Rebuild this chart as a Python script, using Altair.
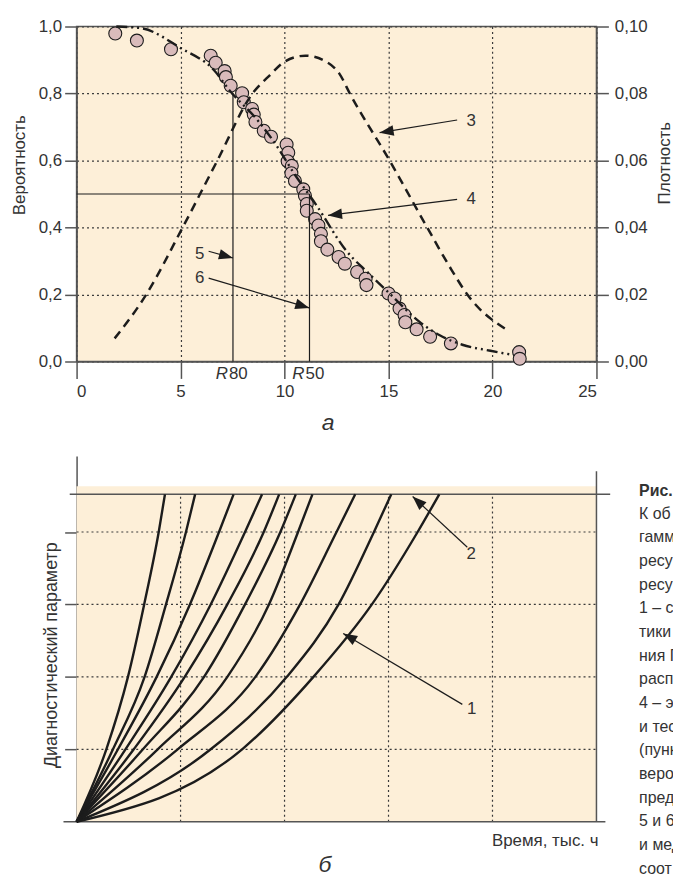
import math
import altair as alt
import pandas as pd

# ---------------- panel а : reliability data ----------------
obs_t = [1.86, 2.90, 4.54, 6.45, 6.69, 7.12, 7.18, 7.41, 7.96, 8.04, 8.44, 8.52, 8.60, 9.00, 9.35,
         10.10, 10.18, 10.15, 10.35, 10.33, 10.50, 10.90, 10.98, 11.07, 11.07, 11.47, 11.63, 11.75, 11.75,
         12.06, 12.60, 12.90, 13.49, 13.90, 13.94, 15.00, 15.29, 15.53, 15.77, 15.81, 16.35, 17.00, 18.00,
         21.28, 21.31]
obs_p = [0.979, 0.958, 0.932, 0.913, 0.892, 0.867, 0.849, 0.823, 0.801, 0.774, 0.754, 0.737, 0.715, 0.689, 0.671,
         0.648, 0.623, 0.598, 0.584, 0.562, 0.539, 0.514, 0.495, 0.470, 0.450, 0.425, 0.406, 0.381, 0.359,
         0.334, 0.312, 0.292, 0.267, 0.247, 0.228, 0.203, 0.188, 0.158, 0.139, 0.117, 0.096, 0.074, 0.054,
         0.028, 0.008]

rel_t = [1.91, 3.10, 5.02, 6.60, 7.40, 8.68, 9.63, 10.43, 11.55, 12.95, 14.10, 15.05, 16.48, 17.44, 18.55, 19.90, 20.94]
rel_p = [1.000, 0.995, 0.935, 0.870, 0.806, 0.722, 0.643, 0.564, 0.465, 0.332, 0.260, 0.203, 0.119, 0.079, 0.050, 0.032, 0.020]

den_t = [1.83, 3.35, 5.10, 6.77, 8.46, 9.30, 10.00, 11.00, 12.00, 12.65, 13.14, 15.05, 16.86, 17.92, 18.79, 20.80]
den_v = [0.0069, 0.0200, 0.0400, 0.0600, 0.0800, 0.0855, 0.0895, 0.0913, 0.0895, 0.0858, 0.0800, 0.0600,
         0.0400, 0.0285, 0.0200, 0.0090]

R_names = ["80", "50"]
R_t = [7.52, 11.20]
R_p = [0.80, 0.50]

x_ticks = [0, 5, 10, 15, 20, 25]
p_ticks = [0.0, 0.2, 0.4, 0.6, 0.8, 1.0]
d_ticks = [0.00, 0.02, 0.04, 0.06, 0.08, 0.10]

# arrows in panel а: label, label position, tail, tip
ann_a_lab = ["3", "4", "5", "6"]
ann_a_lx = [18.97, 18.97, 5.92, 5.92]
ann_a_ly = [0.718, 0.484, 0.321, 0.249]
ann_a_x0 = [18.30, 18.30, 6.35, 6.35]
ann_a_y0 = [0.721, 0.484, 0.329, 0.249]
ann_a_x1 = [14.57, 12.09, 7.52, 11.19]
ann_a_y1 = [0.683, 0.436, 0.309, 0.160]

# ---------------- panel б : diagnostic parameter ----------------
levels = [0, 1, 2, 3, 4, 4.52]
limit_level = 4.52
curves_x = [
    [0, 1.43, 2.47, 3.25, 3.95, 4.25],
    [0, 1.75, 3.27, 4.30, 5.26, 5.70],
    [0, 1.99, 3.85, 5.45, 6.85, 7.55],
    [0, 2.35, 4.55, 6.45, 8.10, 8.92],
    [0, 2.75, 5.20, 7.25, 9.00, 9.74],
    [0, 3.19, 6.13, 8.10, 9.80, 10.54],
    [0, 3.90, 7.25, 9.25, 10.65, 11.34],
    [0, 4.86, 8.60, 10.75, 12.50, 13.40],
    [0, 6.45, 10.11, 12.60, 14.30, 15.13],
    [0, 7.96, 11.39, 14.20, 16.40, 17.44],
]
b_grid_x = [5, 10, 15, 20]
b_grid_y = [1, 2, 3, 4]

ann_b_lab = ["2", "1"]
ann_b_lx = [18.98, 19.00]
ann_b_ly = [3.70, 1.56]
ann_b_x0 = [18.79, 18.55]
ann_b_y0 = [3.79, 1.62]
ann_b_x1 = [16.16, 12.82]
ann_b_y1 = [4.49, 2.60]

caption_head = "Рис."
caption_lines = ["К об", "гамм", "ресу", "ресу", "1 – с", "тики", "ния Г", "расп",
                 "4 – э", "и тес", "(пунк", "веро", "пред", "5 и 6", "и мед", "соот"]

# invisible layout guides (page edges, in x units of panel а) that fix the drawing's bounds
page_guides = [-3.585, 29.875]

# ---------------- style ----------------
FONT = "Liberation Sans"
NARROW = "Liberation Sans Narrow, Liberation Sans"
W = 523
H_A = 337
H_B = 368
B_TOP = 5.05
BG = "#FDEFD8"
INK = "#1c1c1c"
AXC = "#555555"
GRID = "#3a3a3a"
TXT = "#333333"
PT_FILL = "#D9BBBB"

SX = W / 25.0


def head_angle(x0, y0, x1, y1, sy):
    dx = (x1 - x0) * SX
    dy = -(y1 - y0) * sy
    return math.degrees(math.atan2(dx, -dy)) % 360


ARROW = "M0,0L0.75,2L-0.75,2Z"

xa = alt.Scale(domain=[0, 25], nice=False, zero=False)
ya = alt.Scale(domain=[0, 1], nice=False, zero=False)
yd = alt.Scale(domain=[0, 0.1], nice=False, zero=False)

comma1 = "replace(format(datum.value, '.1f'), '.', ',')"
comma2 = "replace(format(datum.value, '.2f'), '.', ',')"

x_axis_a = alt.Axis(values=x_ticks, title=None, tickSize=17, labelPadding=5, grid=True,
                    gridDash=[2, 3], gridColor=GRID, gridWidth=1.2, domainColor=AXC, domainWidth=1.5,
                    tickColor=AXC, tickWidth=1.5, labelFontSize=17, labelColor=TXT, labelFont=FONT)
y_axis_left = alt.Axis(values=p_ticks, labelExpr=comma1, tickSize=12, labelPadding=3, grid=True,
                       gridDash=[2, 3], gridColor=GRID, gridWidth=1.2, domainColor=AXC, domainWidth=1.5,
                       tickColor=AXC, tickWidth=1.5, labelFontSize=17, labelColor=TXT, labelFont=FONT,
                       title="Вероятность", titleFont=FONT, titleFontSize=17, titleFontWeight="normal",
                       titleColor=TXT, titleAngle=270, titleAlign="center", titleBaseline="bottom",
                       titleX=-48, titleY=139)
y_axis_right = alt.Axis(orient="right", values=d_ticks, labelExpr=comma2, tickSize=12, labelPadding=6,
                        grid=False, domainColor=AXC, domainWidth=1.5, tickColor=AXC, tickWidth=1.5,
                        labelFontSize=17, labelColor=TXT, labelFont=FONT,
                        title="Плотность", titleFont=FONT, titleFontSize=17, titleFontWeight="normal",
                        titleColor=TXT, titleAngle=270, titleAlign="center", titleBaseline="bottom",
                        titleX=77, titleY=137)

df_obs = pd.DataFrame({"t": obs_t, "p": obs_p})
df_rel = pd.DataFrame({"t": rel_t, "p": rel_p})
df_den = pd.DataFrame({"t": den_t, "d": den_v})
df_R = pd.DataFrame({"name": R_names, "t": R_t, "p": R_p, "base": [0.0, 0.0], "lab_y": [-0.036, -0.036]})
df_h = pd.DataFrame({"t0": [0.0], "t1": [R_t[1]], "p": [R_p[1]]})
df_aa = pd.DataFrame({"lab": ann_a_lab, "lx": ann_a_lx, "ly": ann_a_ly,
                      "x0": ann_a_x0, "y0": ann_a_y0, "x1": ann_a_x1, "y1": ann_a_y1})
df_aa["ang"] = [head_angle(a, b, c, d, H_A) for a, b, c, d in zip(ann_a_x0, ann_a_y0, ann_a_x1, ann_a_y1)]
df_pa = pd.DataFrame({"t": [12.09], "p": [-0.183], "lab": ["а"]})
df_guides = pd.DataFrame({"t": page_guides, "p": [0.5, 0.5]})


def X_a(f):
    return alt.X(f, scale=xa, axis=x_axis_a)


def Y_a(f):
    return alt.Y(f, scale=ya, axis=y_axis_left)


points = alt.Chart(df_obs).mark_circle(size=170, fill=PT_FILL, stroke=INK, strokeWidth=1.1, opacity=1).encode(
    x=X_a("t:Q"), y=Y_a("p:Q"))
rel_line = alt.Chart(df_rel).mark_line(color=INK, strokeWidth=2.4, strokeDash=[11, 4, 2, 4, 2, 4],
                                       interpolate="monotone").encode(x=X_a("t:Q"), y=Y_a("p:Q"))
r_rules = alt.Chart(df_R).mark_rule(color=INK, strokeWidth=1.2).encode(x=X_a("t:Q"), y=Y_a("base:Q"), y2="p:Q")
h_rule = alt.Chart(df_h).mark_rule(color=INK, strokeWidth=1.2).encode(x=X_a("t0:Q"), x2="t1:Q", y=Y_a("p:Q"))
arr_a = alt.Chart(df_aa).mark_rule(color=INK, strokeWidth=1.2).encode(
    x=X_a("x0:Q"), y=Y_a("y0:Q"), x2="x1:Q", y2="y1:Q")
head_a = alt.Chart(df_aa).mark_point(shape=ARROW, filled=True, size=200, color=INK, opacity=1).encode(
    x=X_a("x1:Q"), y=Y_a("y1:Q"), angle=alt.Angle("ang:Q", scale=None))
lab_a = alt.Chart(df_aa).mark_text(fontSize=17, font=FONT, color=TXT, align="center", baseline="middle").encode(
    x=X_a("lx:Q"), y=Y_a("ly:Q"), text="lab:N")
r_letter = alt.Chart(df_R).mark_text(text="R", fontSize=17, font=FONT, fontStyle="italic", color=TXT,
                                     align="right", baseline="middle", dx=-5).encode(
    x=X_a("t:Q"), y=Y_a("lab_y:Q"))
r_num = alt.Chart(df_R).mark_text(fontSize=17, font=FONT, color=TXT, align="left", baseline="middle", dx=-4).encode(
    x=X_a("t:Q"), y=Y_a("lab_y:Q"), text="name:N")
panel_a_lab = alt.Chart(df_pa).mark_text(fontSize=23, font=FONT, fontStyle="italic", color=TXT,
                                         align="center", baseline="middle").encode(
    x=X_a("t:Q"), y=Y_a("p:Q"), text="lab:N")
guides = alt.Chart(df_guides).mark_point(size=1, opacity=0, filled=True).encode(x=X_a("t:Q"), y=Y_a("p:Q"))

den_line = alt.Chart(df_den).mark_line(color=INK, strokeWidth=2.5, strokeDash=[9, 6], interpolate="monotone").encode(
    x=X_a("t:Q"), y=alt.Y("d:Q", scale=yd, axis=y_axis_right))

inner_a = alt.layer(guides, points, rel_line, r_rules, h_rule, arr_a, head_a, lab_a, r_letter, r_num, panel_a_lab)
panel_a = alt.layer(inner_a, den_line).resolve_scale(y="independent").properties(
    width=W, height=H_A, view=alt.ViewBackground(fill=BG, stroke=AXC, strokeWidth=1.5))

# ---------------- panel б ----------------
xb = alt.Scale(domain=[0, 25], nice=False, zero=False)
yb = alt.Scale(domain=[0, B_TOP], nice=False, zero=False)

y_axis_b = alt.Axis(values=b_grid_y, labels=False, tickSize=12, grid=False, domainColor=AXC, domainWidth=1.5,
                    tickColor=AXC, tickWidth=1.5, title="Диагностический параметр", titleFont=FONT,
                    titleFontSize=18, titleFontWeight="normal", titleColor=TXT, titleAngle=270,
                    titleAlign="center", titleBaseline="bottom", titleX=-16, titleY=200)


def X_b(f):
    return alt.X(f, scale=xb, axis=None)


def Y_b(f):
    return alt.Y(f, scale=yb, axis=y_axis_b)


rows = []
for ci, xs in enumerate(curves_x):
    for k, (xv, yv) in enumerate(zip(xs, levels)):
        rows.append({"curve": ci, "x": xv, "y": yv, "ord": k})
df_curves = pd.DataFrame(rows)

df_bg = pd.DataFrame({"x0": [0.0], "x1": [25.0], "y0": [0.0], "y1": [4.63]})
df_gx = pd.DataFrame({"x": b_grid_x, "y0": [0.0] * 4, "y1": [limit_level] * 4})
df_gy = pd.DataFrame({"y": b_grid_y, "x0": [0.0] * 4, "x1": [25.0] * 4})
df_lim = pd.DataFrame({"x0": [-0.33], "x1": [25.66], "y": [limit_level]})
df_bax = pd.DataFrame({"x0": [-0.63], "x1": [25.43], "y": [0.0]})
df_rax = pd.DataFrame({"x": [25.0], "y0": [0.0], "y1": [4.84]})
df_ab = pd.DataFrame({"lab": ann_b_lab, "lx": ann_b_lx, "ly": ann_b_ly,
                      "x0": ann_b_x0, "y0": ann_b_y0, "x1": ann_b_x1, "y1": ann_b_y1})
df_ab["ang"] = [head_angle(a, b, c, d, H_B / B_TOP) for a, b, c, d in zip(ann_b_x0, ann_b_y0, ann_b_x1, ann_b_y1)]
df_pb = pd.DataFrame({"x": [11.94], "y": [-0.60], "lab": ["б"]})
df_xt = pd.DataFrame({"x": [25.1], "y": [-0.27], "lab": ["Время, тыс. ч"]})
df_cap = pd.DataFrame({"x": [27.05], "y_head": [4.57], "y_body": [4.36]})

bg = alt.Chart(df_bg).mark_rect(fill=BG).encode(x=X_b("x0:Q"), x2="x1:Q", y=Y_b("y0:Q"), y2="y1:Q")
gx = alt.Chart(df_gx).mark_rule(color=GRID, strokeWidth=1.2, strokeDash=[2, 3]).encode(
    x=X_b("x:Q"), y=Y_b("y0:Q"), y2="y1:Q")
gy = alt.Chart(df_gy).mark_rule(color=GRID, strokeWidth=1.2, strokeDash=[2, 3]).encode(
    y=Y_b("y:Q"), x=X_b("x0:Q"), x2="x1:Q")
lim = alt.Chart(df_lim).mark_rule(color=AXC, strokeWidth=1.5).encode(x=X_b("x0:Q"), x2="x1:Q", y=Y_b("y:Q"))
bax = alt.Chart(df_bax).mark_rule(color=AXC, strokeWidth=1.5).encode(x=X_b("x0:Q"), x2="x1:Q", y=Y_b("y:Q"))
rax = alt.Chart(df_rax).mark_rule(color=AXC, strokeWidth=1.5).encode(x=X_b("x:Q"), y=Y_b("y0:Q"), y2="y1:Q")
curves = alt.Chart(df_curves).mark_line(color=INK, strokeWidth=2.4, interpolate="monotone").encode(
    x=X_b("x:Q"), y=Y_b("y:Q"), detail="curve:N", order="ord:Q")
arr_b = alt.Chart(df_ab).mark_rule(color=INK, strokeWidth=1.2).encode(
    x=X_b("x0:Q"), y=Y_b("y0:Q"), x2="x1:Q", y2="y1:Q")
head_b = alt.Chart(df_ab).mark_point(shape=ARROW, filled=True, size=200, color=INK, opacity=1).encode(
    x=X_b("x1:Q"), y=Y_b("y1:Q"), angle=alt.Angle("ang:Q", scale=None))
lab_b = alt.Chart(df_ab).mark_text(fontSize=17, font=FONT, color=TXT, align="center", baseline="middle").encode(
    x=X_b("lx:Q"), y=Y_b("ly:Q"), text="lab:N")
panel_b_lab = alt.Chart(df_pb).mark_text(fontSize=23, font=FONT, fontStyle="italic", color=TXT,
                                         align="center", baseline="middle").encode(
    x=X_b("x:Q"), y=Y_b("y:Q"), text="lab:N")
x_title_b = alt.Chart(df_xt).mark_text(fontSize=17, font=FONT, color=TXT, align="right", baseline="middle").encode(
    x=X_b("x:Q"), y=Y_b("y:Q"), text="lab:N")
cap_head = alt.Chart(df_cap).mark_text(text=caption_head, fontSize=16, font=NARROW, fontWeight="bold", color=TXT,
                                       align="left", baseline="middle").encode(x=X_b("x:Q"), y=Y_b("y_head:Q"))
cap_body = alt.Chart(df_cap).mark_text(text=caption_lines, fontSize=16, font=NARROW, color=TXT, lineHeight=23.8,
                                       align="left", baseline="top").encode(x=X_b("x:Q"), y=Y_b("y_body:Q"))

panel_b = alt.layer(bg, gx, gy, lim, bax, rax, curves, arr_b, head_b, lab_b, panel_b_lab, x_title_b,
                    cap_head, cap_body).properties(
    width=W, height=H_B, view=alt.ViewBackground(fill=None, stroke=None))

chart = alt.vconcat(panel_a, panel_b, spacing=20).properties(
    padding={"left": -8, "top": 6, "right": -27, "bottom": 0}
).configure(font=FONT).configure_view(stroke=None)

chart.save("out.html", embed_options={"renderer": "svg", "actions": False})
